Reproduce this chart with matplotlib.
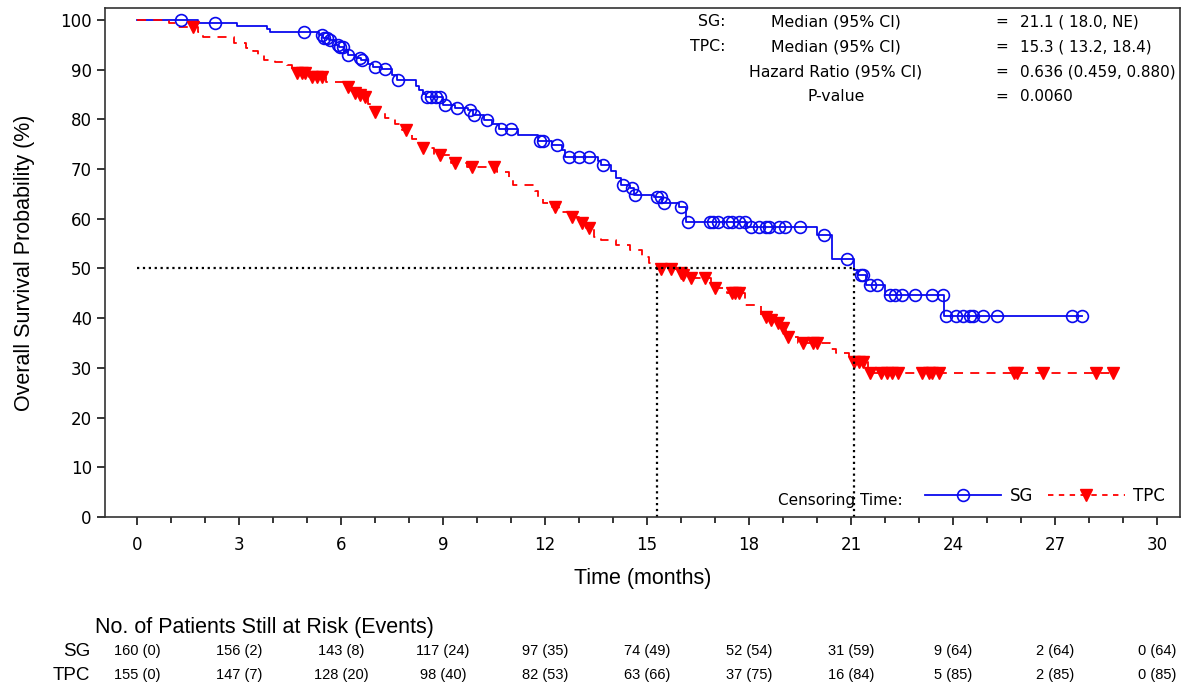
import numpy as np
import matplotlib
matplotlib.use('Agg')
import matplotlib.pyplot as plt
from matplotlib.lines import Line2D

# Kaplan-Meier steps (months, % surviving after the step)
sg_times = [0, 1.79, 2.94, 3.82, 3.9, 5.35, 5.47, 5.65, 5.85, 5.95, 6.1, 6.2, 6.45, 6.6, 6.8,
            6.95, 7.2, 7.5, 7.65, 8.2, 8.3, 8.4, 8.5, 9.0, 9.35, 9.75, 9.88, 10.2, 10.45, 10.65,
            11.2, 11.8, 12.2, 12.5, 12.6, 13.55, 13.65, 13.95, 14.1, 14.25, 14.5, 14.62, 15.2,
            15.45, 15.95, 16.15, 17.95, 20.0, 20.45, 21.08, 21.2, 21.45, 22.0, 23.75]
sg_surv = [100, 99.3, 98.7, 98.1, 97.5, 97.0, 96.4, 96.0, 95.0, 94.5, 93.8, 93.0, 92.4, 92.0, 91.2,
           90.5, 90.1, 89.0, 87.9, 86.8, 85.9, 85.2, 84.5, 82.9, 82.3, 81.9, 80.9, 79.9, 79.1, 78.1,
           76.9, 75.6, 74.8, 73.8, 72.4, 71.6, 70.8, 69.6, 68.2, 66.8, 66.2, 64.8, 64.4,
           63.2, 62.4, 59.4, 58.3, 56.7, 52.0, 49.7, 48.7, 46.7, 44.6, 40.4]
sg_last = 27.8
sg_censor = [1.3, 2.3, 4.91, 5.43, 5.5, 5.6, 5.68, 5.9, 5.97, 6.05, 6.22, 6.56, 6.62, 7.0, 7.3,
             7.68, 8.52, 8.65, 8.8, 8.9, 9.06, 9.4, 9.8, 9.92, 10.3, 10.7, 11.0, 11.85, 11.94,
             12.35, 12.7, 13.0, 13.3, 13.7, 14.3, 14.55, 14.65, 15.3, 15.4, 15.5, 16.0, 16.2,
             16.85, 16.95, 17.1, 17.4, 17.5, 17.7, 17.9, 18.05, 18.3, 18.5, 18.6, 18.9, 19.05,
             19.5, 20.2, 20.9, 21.3, 21.35, 21.56, 21.76, 22.15, 22.3, 22.5, 22.9, 23.4, 23.7,
             23.8, 24.1, 24.3, 24.5, 24.6, 24.9, 25.3, 27.5, 27.8]

tpc_times = [0, 0.95, 1.15, 1.8, 1.95, 2.85, 3.2, 3.4, 3.55, 3.75, 4.05, 4.4, 4.55, 5.05, 5.55,
             6.1, 6.3, 6.5, 6.65, 6.8, 6.95, 7.3, 7.6, 7.8, 8.1, 8.35, 8.75, 9.25, 9.7, 10.6,
             10.95, 11.05, 11.7, 11.8, 11.95, 12.2, 12.4, 12.7, 13.0, 13.2, 13.45, 13.65, 14.1,
             14.5, 14.85, 15.05, 15.3, 15.95, 16.02, 16.2, 16.9, 17.35, 17.9, 18.35, 18.6, 18.75,
             18.95, 19.1, 19.45, 20.4, 20.55, 20.95, 21.5]
tpc_surv = [100, 99.4, 98.6, 97.6, 96.6, 95.4, 94.4, 93.8, 93.0, 92.0, 91.5, 91.0, 89.3, 88.5, 87.5,
            86.5, 85.3, 84.9, 84.5, 83.0, 81.5, 80.3, 79.0, 77.9, 76.0, 74.2, 72.8, 71.2, 70.4, 69.4,
            68.0, 66.8, 65.6, 64.4, 63.2, 62.4, 61.4, 60.4, 59.2, 58.2, 56.3, 55.7, 54.7,
            53.7, 52.3, 51.1, 49.9, 49.1, 48.7, 48.1, 46.1, 45.1, 42.7, 40.2, 39.6, 39.0,
            38.0, 36.2, 35.0, 33.8, 33.0, 31.2, 29.0]
tpc_last = 28.7
tpc_censor = [1.65, 4.7, 4.85, 4.95, 5.15, 5.3, 5.45, 6.2, 6.4, 6.55, 6.7, 7.0, 7.9, 8.4, 8.9,
              9.35, 9.85, 10.5, 12.3, 12.8, 13.1, 13.3, 15.4, 15.7, 16.0, 16.05, 16.3, 16.7, 17.0,
              17.5, 17.6, 17.7, 18.5, 18.65, 18.85, 19.0, 19.15, 19.6, 19.9, 20.0, 21.1, 21.25,
              21.35, 21.55, 21.9, 22.05, 22.2, 22.4, 23.1, 23.3, 23.4, 23.6, 25.8, 25.9, 26.65,
              28.2, 28.7]

sg_median = 21.1
tpc_median = 15.3

stat_keys = ['SG:', 'TPC:', '', '']
stat_names = ['Median (95% CI)', 'Median (95% CI)', 'Hazard Ratio (95% CI)', 'P-value']
stat_values = ['21.1 ( 18.0, NE)', '15.3 ( 13.2, 18.4)', '0.636 (0.459, 0.880)', '0.0060']

risk_times = [0, 3, 6, 9, 12, 15, 18, 21, 24, 27, 30]
sg_risk = [160, 156, 143, 117, 97, 74, 52, 31, 9, 2, 0]
sg_events = [0, 2, 8, 24, 35, 49, 54, 59, 64, 64, 64]
tpc_risk = [155, 147, 128, 98, 82, 63, 37, 16, 5, 2, 0]
tpc_events = [0, 7, 20, 40, 53, 66, 75, 84, 85, 85, 85]

BLUE = '#0A0AEE'
RED = '#FF0000'


def on_curve(times, surv, pts):
    idx = np.searchsorted(times, pts, side='right') - 1
    return np.asarray(surv)[idx]


plt.rcParams['font.family'] = 'DejaVu Sans'
fig = plt.figure(figsize=(11.9, 6.86), dpi=100)
ax = fig.add_axes([0.0882, 0.2464, 0.9034, 0.7419])

# survival curves
ax.step(sg_times + [sg_last], sg_surv + [sg_surv[-1]], where='post', color=BLUE, lw=1.3)
ax.step(tpc_times + [tpc_last], tpc_surv + [tpc_surv[-1]], where='post', color=RED, lw=1.3,
        linestyle=(0, (5, 4)))
ax.plot(sg_censor, on_curve(sg_times, sg_surv, sg_censor), 'o', ms=8.5, mfc='none', mec=BLUE, mew=1.2)
ax.plot(tpc_censor, on_curve(tpc_times, tpc_surv, tpc_censor), 'v', ms=9, color=RED)

# median reference lines
ax.plot([0, sg_median], [50, 50], color='black', ls=':', lw=1.6)
ax.plot([tpc_median, tpc_median], [0, 50], color='black', ls=':', lw=1.6)
ax.plot([sg_median, sg_median], [0, 50], color='black', ls=':', lw=1.6)

ax.set_xlim(-0.94, 30.68)
ax.set_ylim(0, 102.4)
ax.set_xticks(risk_times)
ax.set_xticks(range(0, 31), minor=True)
ax.set_yticks(range(0, 101, 10))
ax.tick_params(axis='both', which='major', direction='out', length=6, width=1.1, labelsize=12)
ax.tick_params(axis='x', which='minor', direction='out', length=4, width=1.1)
ax.tick_params(axis='x', pad=8)
for s in ax.spines.values():
    s.set_linewidth(1.2)
    s.set_color('#333333')

ax.set_xlabel('Time (months)', fontsize=15.5, family='Liberation Sans', labelpad=10)
ax.set_ylabel('Overall Survival Probability (%)', fontsize=15.5, family='Liberation Sans', labelpad=18)

# statistics block
for i in range(4):
    y = 0.973 - i * 0.049
    if stat_keys[i]:
        ax.text(0.577, y, stat_keys[i], transform=ax.transAxes, ha='right', va='center', fontsize=11.3)
    ax.text(0.68, y, stat_names[i], transform=ax.transAxes, ha='center', va='center', fontsize=11.3)
    ax.text(0.828, y, '=', transform=ax.transAxes, ha='left', va='center', fontsize=11)
    ax.text(0.851, y, stat_values[i], transform=ax.transAxes, ha='left', va='center', fontsize=10.9)

# legend
handles = [Line2D([], [], color=BLUE, lw=1.3, marker='o', ms=8.5, mfc='none', mec=BLUE, mew=1.2),
           Line2D([], [], color=RED, lw=1.3, ls=(0, (3, 3)), marker='v', ms=9)]
ax.legend(handles, ['SG', 'TPC'], loc='lower right', bbox_to_anchor=(1.0, -0.005), ncol=2,
          frameon=False, fontsize=12, handlelength=4.6, columnspacing=0.9, handletextpad=0.5,
          numpoints=1)
ax.text(0.742, 0.033, 'Censoring Time:', transform=ax.transAxes, ha='right', va='center', fontsize=11)

# risk table
trans = ax.get_xaxis_transform()
fig.text(0.080, 0.086, 'No. of Patients Still at Risk (Events)', fontsize=15.5,
         family='Liberation Sans', ha='left', va='center')
fig.text(0.0756, 0.051, 'SG', fontsize=13.5, family='Liberation Sans', ha='right', va='center')
fig.text(0.0756, 0.016, 'TPC', fontsize=13.5, family='Liberation Sans', ha='right', va='center')
for t, n, e in zip(risk_times, sg_risk, sg_events):
    ax.text(t, -0.263, f'{n} ({e})', transform=trans, ha='center', va='center', fontsize=10.5,
            family='Liberation Sans')
for t, n, e in zip(risk_times, tpc_risk, tpc_events):
    ax.text(t, -0.310, f'{n} ({e})', transform=trans, ha='center', va='center', fontsize=10.5,
            family='Liberation Sans')

fig.savefig('out.png', dpi=100)
